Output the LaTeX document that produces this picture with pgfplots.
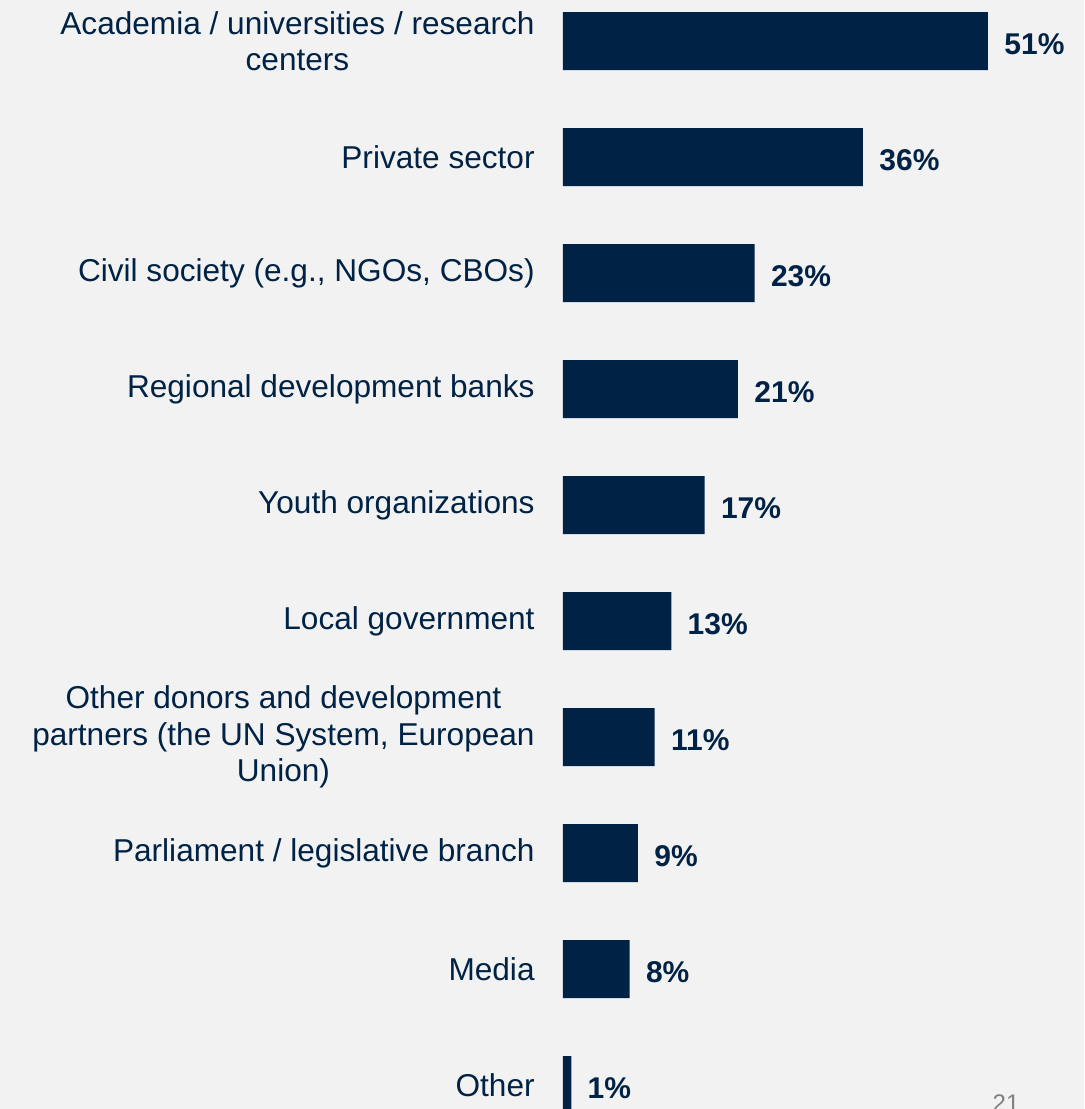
\documentclass[border=0pt]{standalone}
\usepackage{fontspec}
\setmainfont{Liberation Sans}
\usepackage{pgfplots}
\pgfplotsset{compat=1.18}
\definecolor{navy}{RGB}{0,34,68}
\definecolor{bg}{RGB}{242,242,242}
\definecolor{pagegray}{RGB}{127,127,127}
\begin{document}
\begin{tikzpicture}
% page: 1084 x 1109 px, 1px = 0.5pt
\fill[bg] (0,0) rectangle (542pt,-554.5pt);
\begin{axis}[
    at={(281.5pt,37.5pt)}, anchor=north west,
    scale only axis,
    width=250pt, height=638pt,
    xbar, bar width=29pt,
    xmin=0, xmax=60,
    ymin=-1, ymax=10,
    y dir=reverse,
    axis line style={draw=none},
    major tick length=0pt,
    xtick=\empty,
    ytick={0,...,9},
    yticklabels={
        {Academia / universities / research\\centers},
        {Private sector},
        {Civil society (e.g., NGOs, CBOs)},
        {Regional development banks},
        {Youth organizations},
        {Local government},
        {Other donors and development\\partners (the UN System, European\\Union)},
        {Parliament / legislative branch},
        {Media},
        {Other}},
    yticklabel style={align=center, inner sep=0pt, xshift=-14pt, text=navy,
        font=\fontsize{15.8pt}{18.3pt}\selectfont},
    /pgf/number format/assume math mode=true,
    point meta=x,
    nodes near coords={\pgfmathprintnumber{\pgfplotspointmeta}\%},
    nodes near coords style={anchor=west, inner sep=0pt, xshift=8pt, yshift=-1.5pt,
        text=navy, font=\fontsize{15pt}{18pt}\selectfont\bfseries},
]
\addplot[fill=navy, draw=none] coordinates {
    (51,0) (36,1) (23,2) (21,3) (17,4) (13,5) (11,6) (9,7) (8,8) (1,9)};
\end{axis}
\node[anchor=north, inner sep=0pt, text=pagegray, font=\fontsize{12pt}{14pt}\selectfont]
    at (503pt,-547pt) {21};
\pgfresetboundingbox
\useasboundingbox (0,0) rectangle (542pt,-554.5pt);
\end{tikzpicture}
\end{document}
